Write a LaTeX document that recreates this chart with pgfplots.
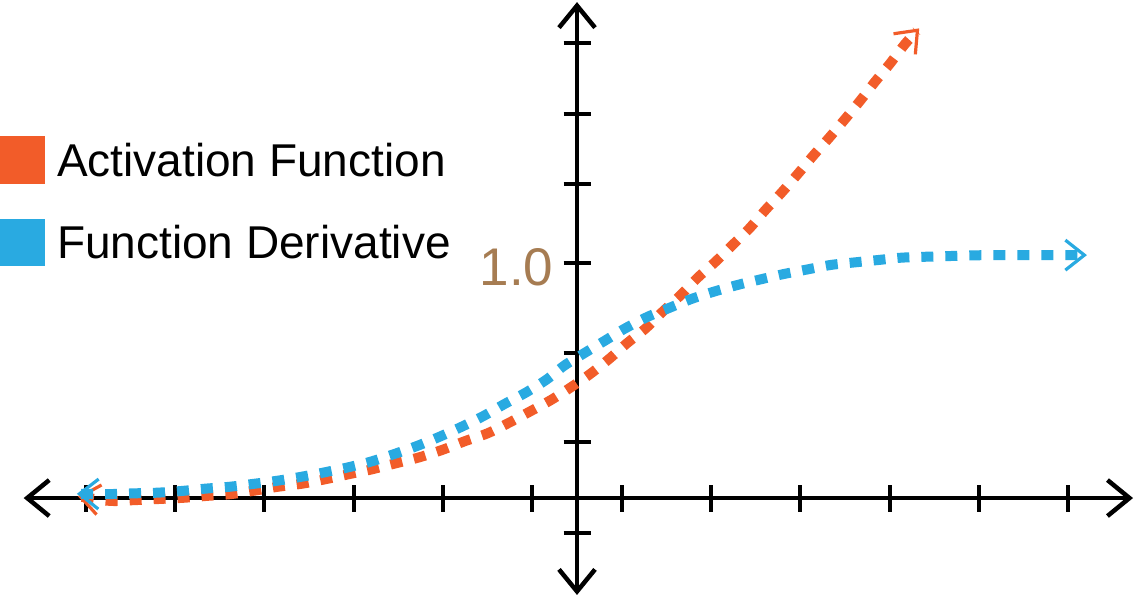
\documentclass[border=0pt]{standalone}
\usepackage{pgfplots}
\pgfplotsset{compat=1.18}
\usepackage{fontspec}
\setmainfont{Liberation Sans}
\usetikzlibrary{arrows.meta}
\definecolor{actorange}{RGB}{242,92,41}
\definecolor{derivblue}{RGB}{41,170,225}
\definecolor{labelbrown}{RGB}{166,124,82}
\tikzset{
  axarr/.style={arrows={Straight Barb[length=11pt,width=18pt,line width=2.25pt]-Straight Barb[length=11pt,width=18pt,line width=2.25pt]}},
  curvarr/.style={arrows={Straight Barb[length=9.5pt,width=15pt,line width=1.6pt]-Straight Barb[length=9.5pt,width=15pt,line width=1.6pt]}},
  dotline/.style={line width=5pt, dash pattern=on 6pt off 6pt}
}
\begin{document}
\begin{tikzpicture}
\begin{axis}[
  x=44.65pt, y=117.35pt,
  xmin=-6.196, xmax=6.226, ymin=-0.413, ymax=2.113,
  axis lines=middle,
  clip=false,
  axis line style={line width=2.25pt, black},
  every inner x axis line/.append style={axarr},
  every inner y axis line/.append style={axarr},
  x axis line style={axarr},
  y axis line style={axarr},
  xtick={-5.5,-4.5,-3.5,-2.5,-1.5,-0.5,0.5,1.5,2.5,3.5,4.5,5.5},
  xticklabels={},
  ytick={-0.148,0.237,0.617,1,1.337,1.636,1.939},
  yticklabels={,,,{1.0},,,},
  tick align=center,
  major tick length=13.5pt,
  tick style={line width=2pt, black},
  yticklabel style={font=\fontsize{26.5}{26.5}\selectfont, text=labelbrown, anchor=east, xshift=-1.5pt, yshift=-2pt},
  legend cell align=left,
  legend image code/.code={\fill[#1,draw=none,solid,arrows=-] (0pt,-11.75pt) rectangle (22.5pt,11.75pt);},
  legend style={at={(-0.02133,0.7733)}, anchor=north west, draw=none, fill=none,
    inner sep=0pt, outer sep=0pt, row sep=17.5pt,
    font=\fontsize{23pt}{23pt}\selectfont,
    nodes={inner sep=0pt, text depth=0pt},
    /tikz/every odd column/.append style={column sep=6pt}},
]
\addplot[color=actorange, dotline, smooth, curvarr] coordinates {
(-5.59,0.008) (-5.23,-0.012) (-4.96,-0.009) (-4.68,-0.004) (-4.41,0.001) (-4.15,0.009)
(-3.87,0.017) (-3.62,0.031) (-3.35,0.048) (-3.08,0.061) (-2.82,0.080) (-2.55,0.102)
(-2.30,0.122) (-2.03,0.148) (-1.77,0.173) (-1.51,0.205) (-1.25,0.243) (-1.00,0.276)
(-0.76,0.321) (-0.53,0.368) (-0.29,0.418) (-0.06,0.474) (0.156,0.531) (0.367,0.595)
(0.558,0.659) (0.769,0.723) (0.959,0.794) (1.162,0.865) (1.352,0.939) (1.551,1.007)
(1.741,1.078) (1.931,1.149) (2.109,1.227) (2.290,1.301) (2.471,1.380) (2.650,1.461)
(2.819,1.533) (3.000,1.614) (3.169,1.692) (3.338,1.774) (3.507,1.852) (3.672,1.934)
(3.832,2.001)
};
\addlegendentry{Activation Function}
\addplot[color=derivblue, dotline, smooth, curvarr] coordinates {
(-5.60,0.018) (-5.23,0.017) (-4.96,0.020) (-4.69,0.023) (-4.43,0.030) (-4.16,0.040)
(-3.89,0.048) (-3.63,0.060) (-3.35,0.074) (-3.08,0.091) (-2.82,0.110) (-2.56,0.131)
(-2.31,0.155) (-2.05,0.187) (-1.79,0.222) (-1.54,0.261) (-1.29,0.304) (-1.05,0.349)
(-0.81,0.401) (-0.57,0.450) (-0.34,0.505) (-0.14,0.565) (0.08,0.617) (0.31,0.670)
(0.54,0.723) (0.79,0.772) (1.02,0.808) (1.28,0.848) (1.53,0.879) (1.80,0.908)
(2.06,0.932) (2.31,0.954) (2.58,0.974) (2.84,0.993) (3.11,1.004) (3.37,1.014)
(3.63,1.024) (3.90,1.028) (4.17,1.031) (4.44,1.034) (4.70,1.035) (4.96,1.035)
(5.23,1.035) (5.52,1.035) (5.71,1.035)
};
\addlegendentry{Function Derivative}
\coordinate (BL) at (axis cs:-6.461,-0.4218);
\coordinate (TR) at (axis cs:6.237,2.1219);
\end{axis}
\pgfresetboundingbox
\path[use as bounding box] (BL) rectangle (TR);
\end{tikzpicture}
\end{document}
